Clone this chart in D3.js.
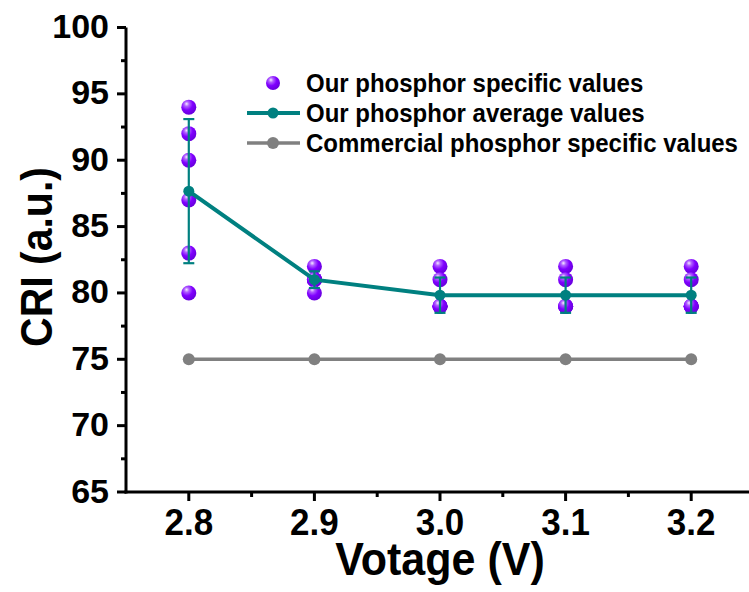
<!DOCTYPE html>
<html>
<head>
<meta charset="utf-8">
<script src="https://cdn.jsdelivr.net/npm/d3@7"></script>
<style>
  html, body { margin: 0; padding: 0; background: #fff; }
  svg { display: block; }
  text { font-family: "Liberation Sans", Arial, sans-serif; font-weight: bold; fill: #000; }
</style>
</head>
<body>
<div id="chart"></div>
<script>
// ---- data ----
const voltages = [2.8, 2.9, 3.0, 3.1, 3.2];
const specificValues = [
  [94, 92, 90, 87, 83, 80],
  [82, 81, 81, 81, 81, 80],
  [82, 81, 79, 79, 79, 79],
  [82, 81, 79, 79, 79, 79],
  [82, 81, 79, 79, 79, 79]
];
const averageValues = [87.67, 81.0, 79.83, 79.83, 79.83];
const averageErrors = [5.43, 0.63, 1.33, 1.33, 1.33];
const commercialValues = [75, 75, 75, 75, 75];
const yTicks = [65, 70, 75, 80, 85, 90, 95, 100];
const xTickLabels = ["2.8", "2.9", "3.0", "3.1", "3.2"];
const legendLabels = ["Our phosphor specific values", "Our phosphor average values", "Commercial phosphor specific values"];

// ---- setup ----
const W = 749, H = 592;
const svg = d3.select("#chart").append("svg").attr("width", W).attr("height", H);

const x = d3.scaleLinear().domain([2.75, 3.25]).range([126, 754]);
const y = d3.scaleLinear().domain([65, 100]).range([492, 27.5]);

const purple = "#8000ff", teal = "#008080", grey = "#808080";

const defs = svg.append("defs");
const grad = defs.append("radialGradient").attr("id", "sphere")
  .attr("cx", "38%").attr("cy", "32%").attr("r", "65%").attr("fx", "35%").attr("fy", "28%");
grad.append("stop").attr("offset", "0%").attr("stop-color", "#f4ecff");
grad.append("stop").attr("offset", "25%").attr("stop-color", "#b060ff");
grad.append("stop").attr("offset", "60%").attr("stop-color", "#8000ff");
grad.append("stop").attr("offset", "100%").attr("stop-color", "#6a00e0");

// ---- axes ----
const axisG = svg.append("g");
// y axis line
axisG.append("line").attr("x1", x(2.75)).attr("x2", x(2.75))
  .attr("y1", y(100)).attr("y2", y(65) + 1.5)
  .attr("stroke", "#000").attr("stroke-width", 3);
// x axis line
axisG.append("line").attr("x1", x(2.75) - 1.5).attr("x2", W)
  .attr("y1", y(65)).attr("y2", y(65))
  .attr("stroke", "#000").attr("stroke-width", 3);

// y major ticks
axisG.selectAll(".ytick").data(yTicks).join("line")
  .attr("x1", x(2.75) - 9).attr("x2", x(2.75))
  .attr("y1", d => y(d)).attr("y2", d => y(d))
  .attr("stroke", "#000").attr("stroke-width", 3);
// y minor ticks
const yMinor = d3.range(67.5, 100, 5);
axisG.selectAll(".yminor").data(yMinor).join("line")
  .attr("x1", x(2.75) - 5).attr("x2", x(2.75))
  .attr("y1", d => y(d)).attr("y2", d => y(d))
  .attr("stroke", "#000").attr("stroke-width", 3);
// y labels
axisG.selectAll(".ylab").data(yTicks).join("text")
  .attr("x", 109).attr("y", d => y(d) + 10.5)
  .attr("text-anchor", "end").attr("font-size", 34)
  .text(d => d);

// x major ticks
axisG.selectAll(".xtick").data(voltages).join("line")
  .attr("x1", d => x(d)).attr("x2", d => x(d))
  .attr("y1", y(65)).attr("y2", y(65) + 9)
  .attr("stroke", "#000").attr("stroke-width", 3);
const xMinor = [2.85, 2.95, 3.05, 3.15, 3.25];
axisG.selectAll(".xminor").data(xMinor).join("line")
  .attr("x1", d => x(d)).attr("x2", d => x(d))
  .attr("y1", y(65)).attr("y2", y(65) + 5)
  .attr("stroke", "#000").attr("stroke-width", 3);
axisG.selectAll(".xlab").data(voltages).join("text")
  .attr("x", d => x(d)).attr("y", 535)
  .attr("text-anchor", "middle").attr("font-size", 35)
  .attr("transform", d => `translate(${x(d)},535) scale(1,1.08) translate(${-x(d)},-535)`)
  .text((d, i) => xTickLabels[i]);

// axis titles
svg.append("text").attr("x", 440).attr("y", 575)
  .attr("text-anchor", "middle").attr("font-size", 43)
  .attr("transform", "translate(440,575) scale(1,1.08) translate(-440,-575)")
  .text("Votage (V)");
svg.append("text")
  .attr("transform", "translate(52,257) rotate(-90) scale(1,1.1)")
  .attr("text-anchor", "middle").attr("font-size", 41)
  .text("CRI (a.u.)");

// ---- commercial series ----
const line = d3.line().x((d, i) => x(voltages[i])).y(d => y(d));
svg.append("path").datum(commercialValues).attr("d", line)
  .attr("fill", "none").attr("stroke", grey).attr("stroke-width", 3.5);
svg.selectAll(".cm").data(commercialValues).join("circle")
  .attr("cx", (d, i) => x(voltages[i])).attr("cy", d => y(d)).attr("r", 6)
  .attr("fill", grey);

// ---- specific points ----
const pts = [];
specificValues.forEach((arr, i) => arr.forEach(v => pts.push({ v: voltages[i], y: v })));
svg.selectAll(".sp").data(pts).join("circle")
  .attr("cx", d => x(d.v)).attr("cy", d => y(d.y)).attr("r", 7.5)
  .attr("fill", "url(#sphere)");

// ---- average series with error bars ----
const eb = svg.append("g");
averageValues.forEach((m, i) => {
  const cx = x(voltages[i]);
  const e = averageErrors[i];
  eb.append("line").attr("x1", cx).attr("x2", cx).attr("y1", y(m - e)).attr("y2", y(m + e))
    .attr("stroke", teal).attr("stroke-width", 2.2);
  [m - e, m + e].forEach(v => {
    eb.append("line").attr("x1", cx - 5.5).attr("x2", cx + 5.5).attr("y1", y(v)).attr("y2", y(v))
      .attr("stroke", teal).attr("stroke-width", 2.2);
  });
});
svg.append("path").datum(averageValues).attr("d", line)
  .attr("fill", "none").attr("stroke", teal).attr("stroke-width", 4);
svg.selectAll(".av").data(averageValues).join("circle")
  .attr("cx", (d, i) => x(voltages[i])).attr("cy", d => y(d)).attr("r", 5.5)
  .attr("fill", teal);

// ---- legend ----
const lg = svg.append("g");
const rowsY = [83, 113, 143];
lg.append("circle").attr("cx", 273).attr("cy", rowsY[0]).attr("r", 7).attr("fill", "url(#sphere)");
lg.append("line").attr("x1", 247).attr("x2", 300).attr("y1", rowsY[1]).attr("y2", rowsY[1])
  .attr("stroke", teal).attr("stroke-width", 4);
lg.append("circle").attr("cx", 273).attr("cy", rowsY[1]).attr("r", 5.5).attr("fill", teal);
lg.append("line").attr("x1", 247).attr("x2", 300).attr("y1", rowsY[2]).attr("y2", rowsY[2])
  .attr("stroke", grey).attr("stroke-width", 3.5);
lg.append("circle").attr("cx", 273).attr("cy", rowsY[2]).attr("r", 6).attr("fill", grey);
lg.selectAll(".lt").data(legendLabels).join("text")
  .attr("x", 306).attr("y", (d, i) => rowsY[i] + 9)
  .attr("font-size", 24)
  .attr("transform", (d, i) => `translate(306,${rowsY[i] + 9}) scale(1,1.1) translate(-306,${-(rowsY[i] + 9)})`)
  .text(d => d);
</script>
</body>
</html>
